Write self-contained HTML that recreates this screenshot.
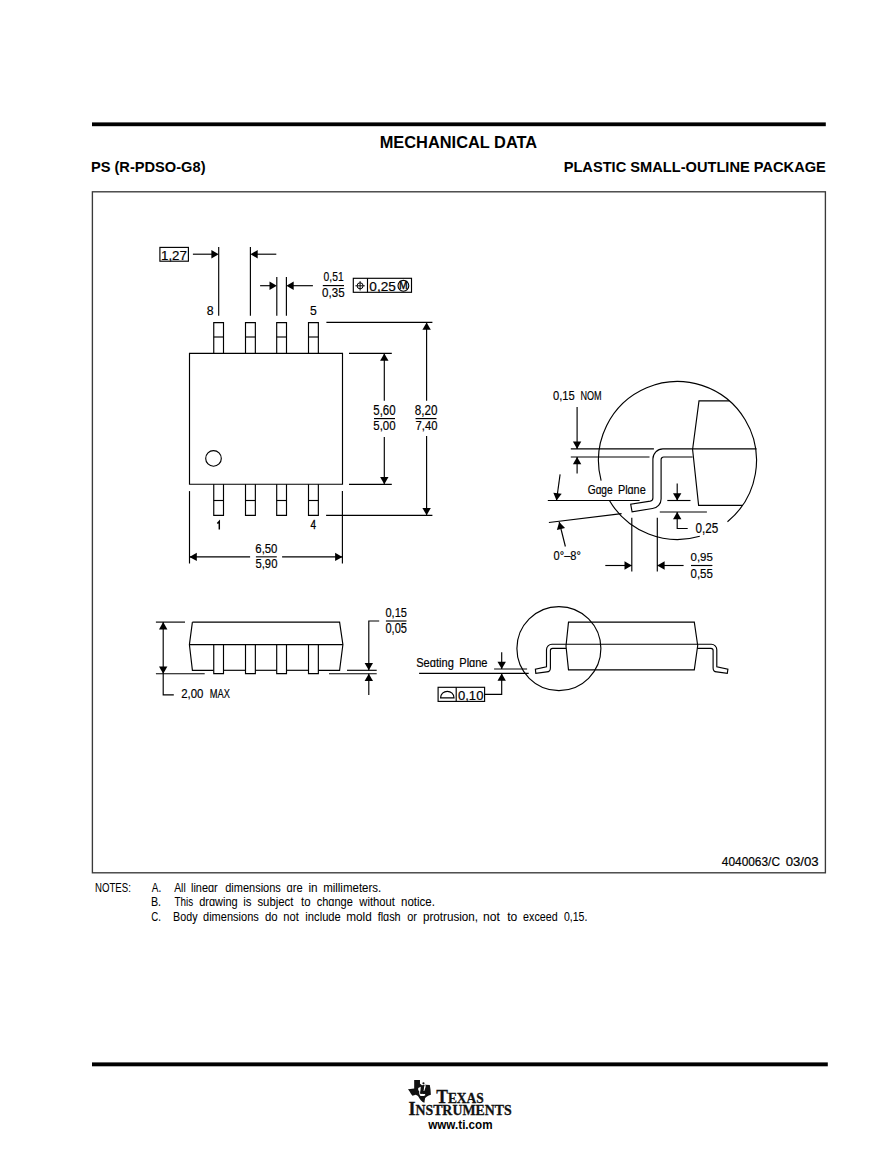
<!DOCTYPE html>
<html><head><meta charset="utf-8"><style>
html,body{margin:0;padding:0;background:#fff;}
svg{display:block;}
</style></head><body>
<svg width="896" height="1166" viewBox="0 0 896 1166">
<rect width="896" height="1166" fill="#fff"/>
<rect x="92" y="122.4" width="733.8" height="3.8" fill="#000"/>
<text x="379.72" y="147.90" font-family="Liberation Sans" font-size="17.25" font-weight="bold" fill="#000" textLength="157.40" lengthAdjust="spacingAndGlyphs">MECHANICAL DATA</text>
<text x="90.92" y="172.00" font-family="Liberation Sans" font-size="14.93" font-weight="bold" fill="#000" textLength="114.61" lengthAdjust="spacingAndGlyphs">PS (R-PDSO-G8)</text>
<text x="563.63" y="172.00" font-family="Liberation Sans" font-size="15.07" font-weight="bold" fill="#000" textLength="262.24" lengthAdjust="spacingAndGlyphs">PLASTIC SMALL-OUTLINE PACKAGE</text>
<rect x="92.4" y="191.8" width="733" height="681" fill="none" stroke="#3a3a3a" stroke-width="1.35"/>
<text x="721.83" y="866.00" font-family="Liberation Sans" font-size="12.17" font-weight="normal" fill="#000" stroke="#000" stroke-width="0.18" textLength="58.13" lengthAdjust="spacingAndGlyphs">4040063/C</text>
<text x="785.68" y="866.00" font-family="Liberation Sans" font-size="12.17" font-weight="normal" fill="#000" stroke="#000" stroke-width="0.18" textLength="32.99" lengthAdjust="spacingAndGlyphs">03/03</text>
<path d="M189.50,353.40 L342.50,353.40 L342.50,484.20 L189.50,484.20 Z" fill="none" stroke="#000" stroke-width="1.15" stroke-linejoin="miter"/>
<path d="M213.75,353.40 L213.75,322.60 L223.50,322.60 L223.50,353.40" fill="none" stroke="#000" stroke-width="1.15" stroke-linejoin="miter"/>
<line x1="213.75" y1="337.00" x2="223.50" y2="337.00" stroke="#000" stroke-width="1.15"/>
<path d="M213.75,484.20 L213.75,515.30 L223.50,515.30 L223.50,484.20" fill="none" stroke="#000" stroke-width="1.15" stroke-linejoin="miter"/>
<line x1="213.75" y1="500.50" x2="223.50" y2="500.50" stroke="#000" stroke-width="1.15"/>
<path d="M245.50,353.40 L245.50,322.60 L255.35,322.60 L255.35,353.40" fill="none" stroke="#000" stroke-width="1.15" stroke-linejoin="miter"/>
<line x1="245.50" y1="337.00" x2="255.35" y2="337.00" stroke="#000" stroke-width="1.15"/>
<path d="M245.50,484.20 L245.50,515.30 L255.35,515.30 L255.35,484.20" fill="none" stroke="#000" stroke-width="1.15" stroke-linejoin="miter"/>
<line x1="245.50" y1="500.50" x2="255.35" y2="500.50" stroke="#000" stroke-width="1.15"/>
<path d="M276.70,353.40 L276.70,322.60 L286.50,322.60 L286.50,353.40" fill="none" stroke="#000" stroke-width="1.15" stroke-linejoin="miter"/>
<line x1="276.70" y1="337.00" x2="286.50" y2="337.00" stroke="#000" stroke-width="1.15"/>
<path d="M276.70,484.20 L276.70,515.30 L286.50,515.30 L286.50,484.20" fill="none" stroke="#000" stroke-width="1.15" stroke-linejoin="miter"/>
<line x1="276.70" y1="500.50" x2="286.50" y2="500.50" stroke="#000" stroke-width="1.15"/>
<path d="M308.50,353.40 L308.50,322.60 L318.35,322.60 L318.35,353.40" fill="none" stroke="#000" stroke-width="1.15" stroke-linejoin="miter"/>
<line x1="308.50" y1="337.00" x2="318.35" y2="337.00" stroke="#000" stroke-width="1.15"/>
<path d="M308.50,484.20 L308.50,515.30 L318.35,515.30 L318.35,484.20" fill="none" stroke="#000" stroke-width="1.15" stroke-linejoin="miter"/>
<line x1="308.50" y1="500.50" x2="318.35" y2="500.50" stroke="#000" stroke-width="1.15"/>
<circle cx="213.5" cy="458.4" r="7.8" fill="none" stroke="#000" stroke-width="1.15"/>
<text x="206.76" y="315.30" font-family="Liberation Sans" font-size="13.48" font-weight="normal" fill="#000" stroke="#000" stroke-width="0.18" textLength="6.87" lengthAdjust="spacingAndGlyphs">8</text>
<text x="310.01" y="315.30" font-family="Liberation Sans" font-size="13.48" font-weight="normal" fill="#000" stroke="#000" stroke-width="0.18" textLength="6.80" lengthAdjust="spacingAndGlyphs">5</text>
<path d="M217.3,523.6 L219.3,521.4 L219.3,529.4" fill="none" stroke="#000" stroke-width="1.45"/>
<text x="310.57" y="529.30" font-family="Liberation Sans" font-size="12.03" font-weight="normal" fill="#000" stroke="#000" stroke-width="0.3" textLength="5.52" lengthAdjust="spacingAndGlyphs">4</text>
<rect x="159.9" y="247.4" width="28.5" height="13.8" fill="none" stroke="#000" stroke-width="1.15"/>
<text x="160.99" y="259.60" font-family="Liberation Sans" font-size="12.32" font-weight="normal" fill="#000" stroke="#000" stroke-width="0.18" textLength="25.88" lengthAdjust="spacingAndGlyphs">1,27</text>
<line x1="218.70" y1="247.00" x2="218.70" y2="315.70" stroke="#000" stroke-width="1.15"/>
<line x1="250.40" y1="247.00" x2="250.40" y2="315.70" stroke="#000" stroke-width="1.15"/>
<line x1="192.90" y1="254.20" x2="212.00" y2="254.20" stroke="#000" stroke-width="1.15"/>
<path d="M218.70,254.20 L211.40,258.40 L211.40,250.00 Z" fill="#000"/>
<line x1="256.00" y1="254.20" x2="276.30" y2="254.20" stroke="#000" stroke-width="1.15"/>
<path d="M250.40,254.20 L257.70,250.00 L257.70,258.40 Z" fill="#000"/>
<line x1="276.80" y1="277.00" x2="276.80" y2="315.70" stroke="#000" stroke-width="1.15"/>
<line x1="286.40" y1="277.00" x2="286.40" y2="315.70" stroke="#000" stroke-width="1.15"/>
<line x1="260.10" y1="285.70" x2="270.00" y2="285.70" stroke="#000" stroke-width="1.15"/>
<path d="M276.80,285.70 L269.50,289.90 L269.50,281.50 Z" fill="#000"/>
<line x1="292.00" y1="285.70" x2="312.90" y2="285.70" stroke="#000" stroke-width="1.15"/>
<path d="M286.40,285.70 L293.70,281.50 L293.70,289.90 Z" fill="#000"/>
<line x1="322.80" y1="285.60" x2="344.00" y2="285.60" stroke="#000" stroke-width="1.15"/>
<text x="323.60" y="280.90" font-family="Liberation Sans" font-size="12.90" font-weight="normal" fill="#000" stroke="#000" stroke-width="0.18" textLength="20.00" lengthAdjust="spacingAndGlyphs">0,51</text>
<text x="322.05" y="297.20" font-family="Liberation Sans" font-size="13.19" font-weight="normal" fill="#000" stroke="#000" stroke-width="0.18" textLength="22.54" lengthAdjust="spacingAndGlyphs">0,35</text>
<rect x="353.3" y="278.3" width="58.2" height="14" fill="none" stroke="#000" stroke-width="1.15"/>
<line x1="367.50" y1="278.30" x2="367.50" y2="292.30" stroke="#000" stroke-width="1.15"/>
<circle cx="360.1" cy="285.8" r="3.0" fill="none" stroke="#000" stroke-width="1.0"/>
<line x1="355.40" y1="285.80" x2="364.80" y2="285.80" stroke="#000" stroke-width="0.95"/>
<line x1="360.10" y1="281.10" x2="360.10" y2="290.50" stroke="#000" stroke-width="0.95"/>
<text x="369.37" y="290.60" font-family="Liberation Sans" font-size="12.46" font-weight="normal" fill="#000" stroke="#000" stroke-width="0.18" textLength="26.50" lengthAdjust="spacingAndGlyphs">0,25</text>
<circle cx="403.4" cy="285.8" r="5.4" fill="none" stroke="#000" stroke-width="1.1"/>
<text x="399.04" y="289.20" font-family="Liberation Sans" font-size="10.00" font-weight="normal" fill="#000" stroke="#000" stroke-width="0.35" textLength="8.72" lengthAdjust="spacingAndGlyphs">M</text>
<line x1="349.00" y1="353.40" x2="391.80" y2="353.40" stroke="#000" stroke-width="1.15"/>
<line x1="349.00" y1="484.30" x2="391.80" y2="484.30" stroke="#000" stroke-width="1.15"/>
<line x1="384.30" y1="353.40" x2="384.30" y2="400.70" stroke="#000" stroke-width="1.15"/>
<path d="M384.30,353.40 L388.50,360.70 L380.10,360.70 Z" fill="#000"/>
<line x1="384.30" y1="437.10" x2="384.30" y2="484.30" stroke="#000" stroke-width="1.15"/>
<path d="M384.30,484.30 L380.10,477.00 L388.50,477.00 Z" fill="#000"/>
<text x="373.29" y="414.80" font-family="Liberation Sans" font-size="13.77" font-weight="normal" fill="#000" stroke="#000" stroke-width="0.18" textLength="22.36" lengthAdjust="spacingAndGlyphs">5,60</text>
<line x1="374.00" y1="418.60" x2="395.00" y2="418.60" stroke="#000" stroke-width="1.15"/>
<text x="373.29" y="430.30" font-family="Liberation Sans" font-size="13.12" font-weight="normal" fill="#000" stroke="#000" stroke-width="0.18" textLength="22.36" lengthAdjust="spacingAndGlyphs">5,00</text>
<line x1="326.40" y1="322.40" x2="432.40" y2="322.40" stroke="#000" stroke-width="1.15"/>
<line x1="326.10" y1="515.30" x2="432.40" y2="515.30" stroke="#000" stroke-width="1.15"/>
<line x1="426.60" y1="322.40" x2="426.60" y2="400.70" stroke="#000" stroke-width="1.15"/>
<path d="M426.60,322.40 L430.80,329.70 L422.40,329.70 Z" fill="#000"/>
<line x1="426.60" y1="436.00" x2="426.60" y2="515.30" stroke="#000" stroke-width="1.15"/>
<path d="M426.60,515.30 L422.40,508.00 L430.80,508.00 Z" fill="#000"/>
<text x="414.69" y="414.80" font-family="Liberation Sans" font-size="13.77" font-weight="normal" fill="#000" stroke="#000" stroke-width="0.18" textLength="22.77" lengthAdjust="spacingAndGlyphs">8,20</text>
<line x1="415.50" y1="418.60" x2="436.50" y2="418.60" stroke="#000" stroke-width="1.15"/>
<text x="415.52" y="430.30" font-family="Liberation Sans" font-size="13.12" font-weight="normal" fill="#000" stroke="#000" stroke-width="0.18" textLength="21.92" lengthAdjust="spacingAndGlyphs">7,40</text>
<line x1="189.50" y1="491.10" x2="189.50" y2="563.50" stroke="#000" stroke-width="1.15"/>
<line x1="342.40" y1="491.10" x2="342.40" y2="563.50" stroke="#000" stroke-width="1.15"/>
<line x1="189.50" y1="556.90" x2="250.10" y2="556.90" stroke="#000" stroke-width="1.15"/>
<path d="M189.50,556.90 L196.80,552.70 L196.80,561.10 Z" fill="#000"/>
<line x1="282.10" y1="556.90" x2="342.40" y2="556.90" stroke="#000" stroke-width="1.15"/>
<path d="M342.40,556.90 L335.10,561.10 L335.10,552.70 Z" fill="#000"/>
<line x1="255.90" y1="556.80" x2="276.80" y2="556.80" stroke="#333" stroke-width="1.4"/>
<text x="255.32" y="552.60" font-family="Liberation Sans" font-size="12.90" font-weight="normal" fill="#000" stroke="#000" stroke-width="0.18" textLength="22.12" lengthAdjust="spacingAndGlyphs">6,50</text>
<text x="255.45" y="568.30" font-family="Liberation Sans" font-size="13.04" font-weight="normal" fill="#000" stroke="#000" stroke-width="0.18" textLength="21.99" lengthAdjust="spacingAndGlyphs">5,90</text>
<path d="M609.57,500.83 A79.0,79.0 0 0 0 699.80,536.29" fill="none" stroke="#000" stroke-width="1.15"/>
<path d="M727.48,521.68 A79.0,79.0 0 1 0 601.12,480.68" fill="none" stroke="#000" stroke-width="1.15"/>
<path d="M729.40,400.90 L699.00,400.90 L692.60,449.50 L698.60,505.30 L742.60,505.30" fill="none" stroke="#000" stroke-width="1.15" stroke-linejoin="miter"/>
<line x1="692.60" y1="448.90" x2="756.50" y2="448.90" stroke="#000" stroke-width="1.15"/>
<path d="M692.6,448.9 L662.9,448.9 A10,10 0 0 0 652.9,458.9 L652.9,498.0 Q652.9,500.6 650.3,501.1 L630.7,504.3 L632.1,511.9 L652.5,508.5 A9.5,9.5 0 0 0 661.1,499 L661.1,459.6 A2.6,2.6 0 0 1 663.7,457 L692.6,457" fill="none" stroke="#000" stroke-width="1.15"/>
<line x1="570.80" y1="448.90" x2="653.90" y2="448.90" stroke="#000" stroke-width="1.15"/>
<line x1="570.80" y1="457.00" x2="649.50" y2="457.00" stroke="#000" stroke-width="1.15"/>
<line x1="577.10" y1="407.10" x2="577.10" y2="448.90" stroke="#000" stroke-width="1.15"/>
<path d="M577.10,448.90 L572.90,441.60 L581.30,441.60 Z" fill="#000"/>
<line x1="577.10" y1="457.00" x2="577.10" y2="473.50" stroke="#000" stroke-width="1.15"/>
<path d="M577.10,457.00 L581.30,464.30 L572.90,464.30 Z" fill="#000"/>
<text x="552.96" y="400.40" font-family="Liberation Sans" font-size="13.19" font-weight="normal" fill="#000" stroke="#000" stroke-width="0.18" textLength="21.70" lengthAdjust="spacingAndGlyphs">0,15</text>
<text x="580.45" y="400.40" font-family="Liberation Sans" font-size="13.19" font-weight="normal" fill="#000" stroke="#000" stroke-width="0.18" textLength="21.19" lengthAdjust="spacingAndGlyphs">NOM</text>
<line x1="547.80" y1="500.50" x2="639.60" y2="500.50" stroke="#000" stroke-width="1.15"/>
<text x="587.69" y="494.00" font-family="Liberation Sans" font-size="12.46" font-weight="normal" fill="#000" stroke="#000" stroke-width="0.18" textLength="24.97" lengthAdjust="spacingAndGlyphs">Gɑge</text>
<text x="617.91" y="494.00" font-family="Liberation Sans" font-size="12.46" font-weight="normal" fill="#000" stroke="#000" stroke-width="0.18" textLength="27.77" lengthAdjust="spacingAndGlyphs">Plɑne</text>
<line x1="548.90" y1="522.50" x2="621.60" y2="513.60" stroke="#000" stroke-width="1.15"/>
<line x1="560.10" y1="474.30" x2="556.50" y2="500.50" stroke="#000" stroke-width="1.15"/>
<path d="M556.50,500.50 L553.35,492.69 L561.67,493.85 Z" fill="#000"/>
<line x1="559.20" y1="522.00" x2="565.40" y2="546.50" stroke="#000" stroke-width="1.15"/>
<path d="M559.20,522.00 L565.05,528.06 L556.90,530.10 Z" fill="#000"/>
<text x="553.57" y="559.90" font-family="Liberation Sans" font-size="12.90" font-weight="normal" fill="#000" stroke="#000" stroke-width="0.18" textLength="27.30" lengthAdjust="spacingAndGlyphs">0°–8°</text>
<line x1="667.30" y1="500.50" x2="690.50" y2="500.50" stroke="#000" stroke-width="1.15"/>
<line x1="659.80" y1="512.00" x2="706.90" y2="512.00" stroke="#000" stroke-width="1.15"/>
<line x1="677.20" y1="483.60" x2="677.20" y2="500.50" stroke="#000" stroke-width="1.15"/>
<path d="M677.20,500.50 L673.00,493.20 L681.40,493.20 Z" fill="#000"/>
<path d="M677.20,512.00 L677.20,528.50 L687.70,528.50" fill="none" stroke="#000" stroke-width="1.15" stroke-linejoin="miter"/>
<path d="M677.20,512.00 L681.40,519.30 L673.00,519.30 Z" fill="#000"/>
<text x="695.44" y="533.00" font-family="Liberation Sans" font-size="14.06" font-weight="normal" fill="#000" stroke="#000" stroke-width="0.18" textLength="22.75" lengthAdjust="spacingAndGlyphs">0,25</text>
<line x1="631.80" y1="517.80" x2="631.80" y2="571.50" stroke="#000" stroke-width="1.15"/>
<line x1="657.30" y1="517.80" x2="657.30" y2="571.50" stroke="#000" stroke-width="1.15"/>
<line x1="605.30" y1="565.50" x2="631.80" y2="565.50" stroke="#000" stroke-width="1.15"/>
<path d="M631.80,565.50 L624.50,569.70 L624.50,561.30 Z" fill="#000"/>
<line x1="657.30" y1="565.50" x2="683.60" y2="565.50" stroke="#000" stroke-width="1.15"/>
<path d="M657.30,565.50 L664.60,561.30 L664.60,569.70 Z" fill="#000"/>
<line x1="691.00" y1="565.50" x2="712.40" y2="565.50" stroke="#000" stroke-width="1.15"/>
<text x="690.55" y="560.80" font-family="Liberation Sans" font-size="11.59" font-weight="normal" fill="#000" stroke="#000" stroke-width="0.18" textLength="22.33" lengthAdjust="spacingAndGlyphs">0,95</text>
<text x="690.55" y="577.50" font-family="Liberation Sans" font-size="12.61" font-weight="normal" fill="#000" stroke="#000" stroke-width="0.18" textLength="22.33" lengthAdjust="spacingAndGlyphs">0,55</text>
<path d="M192.4,622.1 L339.6,622.1 L342.9,644.6 L339.6,670.3 L318.4,670.3" fill="none" stroke="#000" stroke-width="1.15"/>
<path d="M192.4,622.1 L189.4,644.6 L192.4,670.3 L213.6,670.3" fill="none" stroke="#000" stroke-width="1.15"/>
<line x1="189.40" y1="644.60" x2="342.90" y2="644.60" stroke="#000" stroke-width="1.15"/>
<path d="M213.75,644.60 L213.75,673.60 L223.50,673.60 L223.50,644.60" fill="none" stroke="#000" stroke-width="1.15" stroke-linejoin="miter"/>
<line x1="223.50" y1="670.30" x2="245.50" y2="670.30" stroke="#000" stroke-width="1.15"/>
<path d="M245.50,644.60 L245.50,673.60 L255.35,673.60 L255.35,644.60" fill="none" stroke="#000" stroke-width="1.15" stroke-linejoin="miter"/>
<line x1="255.35" y1="670.30" x2="276.70" y2="670.30" stroke="#000" stroke-width="1.15"/>
<path d="M276.70,644.60 L276.70,673.60 L286.50,673.60 L286.50,644.60" fill="none" stroke="#000" stroke-width="1.15" stroke-linejoin="miter"/>
<line x1="286.50" y1="670.30" x2="308.50" y2="670.30" stroke="#000" stroke-width="1.15"/>
<path d="M308.50,644.60 L308.50,673.60 L318.35,673.60 L318.35,644.60" fill="none" stroke="#000" stroke-width="1.15" stroke-linejoin="miter"/>
<line x1="155.90" y1="622.10" x2="185.00" y2="622.10" stroke="#000" stroke-width="1.15"/>
<line x1="155.90" y1="673.70" x2="204.70" y2="673.70" stroke="#000" stroke-width="1.15"/>
<line x1="163.20" y1="622.10" x2="163.20" y2="673.70" stroke="#000" stroke-width="1.15"/>
<path d="M163.20,622.10 L167.40,629.40 L159.00,629.40 Z" fill="#000"/>
<path d="M163.20,673.70 L159.00,666.40 L167.40,666.40 Z" fill="#000"/>
<path d="M163.20,673.70 L163.20,694.90 L173.80,694.90" fill="none" stroke="#000" stroke-width="1.15" stroke-linejoin="miter"/>
<text x="181.23" y="698.20" font-family="Liberation Sans" font-size="12.90" font-weight="normal" fill="#000" stroke="#000" stroke-width="0.18" textLength="22.22" lengthAdjust="spacingAndGlyphs">2,00</text>
<text x="209.74" y="698.20" font-family="Liberation Sans" font-size="12.90" font-weight="normal" fill="#000" stroke="#000" stroke-width="0.18" textLength="20.16" lengthAdjust="spacingAndGlyphs">MAX</text>
<line x1="347.00" y1="670.30" x2="376.70" y2="670.30" stroke="#000" stroke-width="1.15"/>
<line x1="329.00" y1="673.70" x2="376.70" y2="673.70" stroke="#000" stroke-width="1.15"/>
<path d="M379.20,621.00 L368.80,621.00 L368.80,670.30" fill="none" stroke="#000" stroke-width="1.15" stroke-linejoin="miter"/>
<path d="M368.80,670.30 L364.60,663.00 L373.00,663.00 Z" fill="#000"/>
<line x1="368.80" y1="673.70" x2="368.80" y2="694.90" stroke="#000" stroke-width="1.15"/>
<path d="M368.80,673.70 L373.00,681.00 L364.60,681.00 Z" fill="#000"/>
<line x1="385.90" y1="621.00" x2="406.50" y2="621.00" stroke="#000" stroke-width="1.15"/>
<text x="385.47" y="616.70" font-family="Liberation Sans" font-size="12.03" font-weight="normal" fill="#000" stroke="#000" stroke-width="0.18" textLength="21.50" lengthAdjust="spacingAndGlyphs">0,15</text>
<text x="385.47" y="632.90" font-family="Liberation Sans" font-size="13.77" font-weight="normal" fill="#000" stroke="#000" stroke-width="0.18" textLength="21.50" lengthAdjust="spacingAndGlyphs">0,05</text>
<circle cx="558.9" cy="648.6" r="42" fill="none" stroke="#000" stroke-width="1.15"/>
<path d="M568.5,622.1 L694.3,622.1 L697.7,645.5 L694.3,669.9 L568.5,669.9 L566.0,646.0 Z" fill="none" stroke="#000" stroke-width="1.15"/>
<line x1="566.00" y1="644.20" x2="697.70" y2="644.20" stroke="#000" stroke-width="1.15"/>
<path d="M566,644.2 L552,644.2 A5.5,5.5 0 0 0 546.5,649.7 L546.5,666.8 L535.4,669.3 L535.8,673.3 L546.8,671.9 A4,4 0 0 0 550.4,667.9 L550.4,650.5 A2.2,2.2 0 0 1 552.6,648.3 L566,648.3" fill="none" stroke="#000" stroke-width="1.15"/>
<path d="M697.7,644.2 L711.3,644.2 A5.5,5.5 0 0 1 716.8,649.7 L716.8,666.8 L727.9,669.3 L727.3,673.3 L716.7,671.9 A4,4 0 0 1 713.1,667.9 L713.1,650.5 A2.2,2.2 0 0 0 710.9,648.3 L697.4,648.3" fill="none" stroke="#000" stroke-width="1.15"/>
<text x="416.20" y="666.60" font-family="Liberation Sans" font-size="12.03" font-weight="normal" fill="#000" stroke="#000" stroke-width="0.18" textLength="37.62" lengthAdjust="spacingAndGlyphs">Seɑting</text>
<text x="459.30" y="666.60" font-family="Liberation Sans" font-size="12.03" font-weight="normal" fill="#000" stroke="#000" stroke-width="0.18" textLength="28.19" lengthAdjust="spacingAndGlyphs">Plɑne</text>
<line x1="419.10" y1="673.40" x2="528.70" y2="673.40" stroke="#000" stroke-width="1.15"/>
<line x1="494.10" y1="669.00" x2="527.10" y2="669.00" stroke="#000" stroke-width="1.15"/>
<line x1="501.70" y1="652.20" x2="501.70" y2="669.00" stroke="#000" stroke-width="1.15"/>
<path d="M501.70,669.00 L497.50,661.70 L505.90,661.70 Z" fill="#000"/>
<path d="M501.70,673.40 L501.70,694.40 L485.00,694.40" fill="none" stroke="#000" stroke-width="1.15" stroke-linejoin="miter"/>
<path d="M501.70,673.40 L505.90,680.70 L497.50,680.70 Z" fill="#000"/>
<rect x="438.1" y="687.3" width="46.5" height="14.1" fill="none" stroke="#000" stroke-width="1.15"/>
<line x1="456.20" y1="687.30" x2="456.20" y2="701.40" stroke="#000" stroke-width="1.15"/>
<path d="M440.6,697.8 A6.7,6.5 0 0 1 454,697.8 Z" fill="none" stroke="#000" stroke-width="1.15"/>
<text x="457.99" y="699.60" font-family="Liberation Sans" font-size="12.61" font-weight="normal" fill="#000" stroke="#000" stroke-width="0.18" textLength="25.42" lengthAdjust="spacingAndGlyphs">0,10</text>
<text x="95.01" y="892.30" font-family="Liberation Sans" font-size="12.61" font-weight="normal" fill="#000" stroke="#000" stroke-width="0.05" textLength="35.87" lengthAdjust="spacingAndGlyphs">NOTES:</text>
<text x="151.78" y="892.30" font-family="Liberation Sans" font-size="12.61" font-weight="normal" fill="#000" stroke="#000" stroke-width="0.05" textLength="9.43" lengthAdjust="spacingAndGlyphs">A.</text>
<text x="174.28" y="892.30" font-family="Liberation Sans" font-size="12.61" font-weight="normal" fill="#000" stroke="#000" stroke-width="0.05" textLength="11.41" lengthAdjust="spacingAndGlyphs">All</text>
<text x="190.96" y="892.30" font-family="Liberation Sans" font-size="12.61" font-weight="normal" fill="#000" stroke="#000" stroke-width="0.05" textLength="26.72" lengthAdjust="spacingAndGlyphs">lineɑr</text>
<text x="225.14" y="892.30" font-family="Liberation Sans" font-size="12.61" font-weight="normal" fill="#000" stroke="#000" stroke-width="0.05" textLength="55.76" lengthAdjust="spacingAndGlyphs">dimensions</text>
<text x="286.53" y="892.30" font-family="Liberation Sans" font-size="12.61" font-weight="normal" fill="#000" stroke="#000" stroke-width="0.05" textLength="16.06" lengthAdjust="spacingAndGlyphs">ɑre</text>
<text x="308.41" y="892.30" font-family="Liberation Sans" font-size="12.61" font-weight="normal" fill="#000" stroke="#000" stroke-width="0.05" textLength="9.15" lengthAdjust="spacingAndGlyphs">in</text>
<text x="323.14" y="892.30" font-family="Liberation Sans" font-size="12.61" font-weight="normal" fill="#000" stroke="#000" stroke-width="0.05" textLength="58.11" lengthAdjust="spacingAndGlyphs">millimeters.</text>
<text x="150.92" y="906.30" font-family="Liberation Sans" font-size="12.32" font-weight="normal" fill="#000" stroke="#000" stroke-width="0.05" textLength="10.16" lengthAdjust="spacingAndGlyphs">B.</text>
<text x="174.48" y="906.30" font-family="Liberation Sans" font-size="12.32" font-weight="normal" fill="#000" stroke="#000" stroke-width="0.05" textLength="18.68" lengthAdjust="spacingAndGlyphs">This</text>
<text x="199.24" y="906.30" font-family="Liberation Sans" font-size="12.32" font-weight="normal" fill="#000" stroke="#000" stroke-width="0.05" textLength="38.47" lengthAdjust="spacingAndGlyphs">drɑwing</text>
<text x="243.13" y="906.30" font-family="Liberation Sans" font-size="12.32" font-weight="normal" fill="#000" stroke="#000" stroke-width="0.05" textLength="8.28" lengthAdjust="spacingAndGlyphs">is</text>
<text x="257.38" y="906.30" font-family="Liberation Sans" font-size="12.32" font-weight="normal" fill="#000" stroke="#000" stroke-width="0.05" textLength="36.10" lengthAdjust="spacingAndGlyphs">subject</text>
<text x="301.03" y="906.30" font-family="Liberation Sans" font-size="12.32" font-weight="normal" fill="#000" stroke="#000" stroke-width="0.05" textLength="9.55" lengthAdjust="spacingAndGlyphs">to</text>
<text x="316.73" y="906.30" font-family="Liberation Sans" font-size="12.32" font-weight="normal" fill="#000" stroke="#000" stroke-width="0.05" textLength="36.06" lengthAdjust="spacingAndGlyphs">chɑnge</text>
<text x="359.32" y="906.30" font-family="Liberation Sans" font-size="12.32" font-weight="normal" fill="#000" stroke="#000" stroke-width="0.05" textLength="35.67" lengthAdjust="spacingAndGlyphs">without</text>
<text x="401.04" y="906.30" font-family="Liberation Sans" font-size="12.32" font-weight="normal" fill="#000" stroke="#000" stroke-width="0.05" textLength="33.92" lengthAdjust="spacingAndGlyphs">notice.</text>
<text x="151.31" y="920.80" font-family="Liberation Sans" font-size="12.17" font-weight="normal" fill="#000" stroke="#000" stroke-width="0.05" textLength="9.67" lengthAdjust="spacingAndGlyphs">C.</text>
<text x="173.12" y="920.80" font-family="Liberation Sans" font-size="12.17" font-weight="normal" fill="#000" stroke="#000" stroke-width="0.05" textLength="24.40" lengthAdjust="spacingAndGlyphs">Body</text>
<text x="203.04" y="920.80" font-family="Liberation Sans" font-size="12.17" font-weight="normal" fill="#000" stroke="#000" stroke-width="0.05" textLength="55.76" lengthAdjust="spacingAndGlyphs">dimensions</text>
<text x="264.92" y="920.80" font-family="Liberation Sans" font-size="12.17" font-weight="normal" fill="#000" stroke="#000" stroke-width="0.05" textLength="12.66" lengthAdjust="spacingAndGlyphs">do</text>
<text x="283.26" y="920.80" font-family="Liberation Sans" font-size="12.17" font-weight="normal" fill="#000" stroke="#000" stroke-width="0.05" textLength="15.52" lengthAdjust="spacingAndGlyphs">not</text>
<text x="305.35" y="920.80" font-family="Liberation Sans" font-size="12.17" font-weight="normal" fill="#000" stroke="#000" stroke-width="0.05" textLength="35.45" lengthAdjust="spacingAndGlyphs">include</text>
<text x="346.22" y="920.80" font-family="Liberation Sans" font-size="12.17" font-weight="normal" fill="#000" stroke="#000" stroke-width="0.05" textLength="25.54" lengthAdjust="spacingAndGlyphs">mold</text>
<text x="377.65" y="920.80" font-family="Liberation Sans" font-size="12.17" font-weight="normal" fill="#000" stroke="#000" stroke-width="0.05" textLength="23.06" lengthAdjust="spacingAndGlyphs">flɑsh</text>
<text x="407.24" y="920.80" font-family="Liberation Sans" font-size="12.17" font-weight="normal" fill="#000" stroke="#000" stroke-width="0.05" textLength="9.74" lengthAdjust="spacingAndGlyphs">or</text>
<text x="422.95" y="920.80" font-family="Liberation Sans" font-size="12.17" font-weight="normal" fill="#000" stroke="#000" stroke-width="0.05" textLength="55.10" lengthAdjust="spacingAndGlyphs">protrusion,</text>
<text x="482.89" y="920.80" font-family="Liberation Sans" font-size="12.17" font-weight="normal" fill="#000" stroke="#000" stroke-width="0.05" textLength="16.90" lengthAdjust="spacingAndGlyphs">not</text>
<text x="507.22" y="920.80" font-family="Liberation Sans" font-size="12.17" font-weight="normal" fill="#000" stroke="#000" stroke-width="0.05" textLength="10.09" lengthAdjust="spacingAndGlyphs">to</text>
<text x="523.04" y="920.80" font-family="Liberation Sans" font-size="12.17" font-weight="normal" fill="#000" stroke="#000" stroke-width="0.05" textLength="34.65" lengthAdjust="spacingAndGlyphs">exceed</text>
<text x="563.89" y="920.80" font-family="Liberation Sans" font-size="12.17" font-weight="normal" fill="#000" stroke="#000" stroke-width="0.05" textLength="23.48" lengthAdjust="spacingAndGlyphs">0,15.</text>
<rect x="92" y="1062.4" width="735.8" height="3.9" fill="#000"/>
<g transform="translate(404,1076) scale(0.035714)"><path d="M285,112 L447,112 L447,218 L478,240 L500,262 L598,248 L722,252 L742,370 L752,522 L692,548 L632,580 L592,618 L578,690 L572,748 L522,728 L470,682 L430,622 L392,562 L332,522 L282,540 L238,552 L198,502 L158,432 L112,368 L285,352 Z" fill="#111"/><path d="M398,335 L468,298 L458,468 Q472,515 588,502 L598,538 Q520,580 452,552 Q418,520 424,420 L398,402 Z" fill="#fff"/><path d="M565,268 L612,262 L598,330 L568,420 L548,420 Z" fill="#fff"/><path d="M512,282 L568,282 L502,496 L446,496 Z" fill="#111"/><circle cx="545" cy="205" r="30" fill="#111"/></g>
<text x="436.2" y="1102.6" font-family="Liberation Serif" font-weight="bold" fill="#111" stroke="#111" stroke-width="0.3" font-size="19.5" textLength="47.6" lengthAdjust="spacingAndGlyphs">T<tspan font-size="15">EXAS</tspan></text>
<text x="408.4" y="1115.4" font-family="Liberation Serif" font-weight="bold" fill="#111" stroke="#111" stroke-width="0.3" font-size="19.5" textLength="103.3" lengthAdjust="spacingAndGlyphs">I<tspan font-size="15">NSTRUMENTS</tspan></text>
<text x="428.23" y="1129.40" font-family="Liberation Sans" font-size="11.90" font-weight="bold" fill="#000" textLength="64.38" lengthAdjust="spacingAndGlyphs">www.ti.com</text>
</svg>
</body></html>
